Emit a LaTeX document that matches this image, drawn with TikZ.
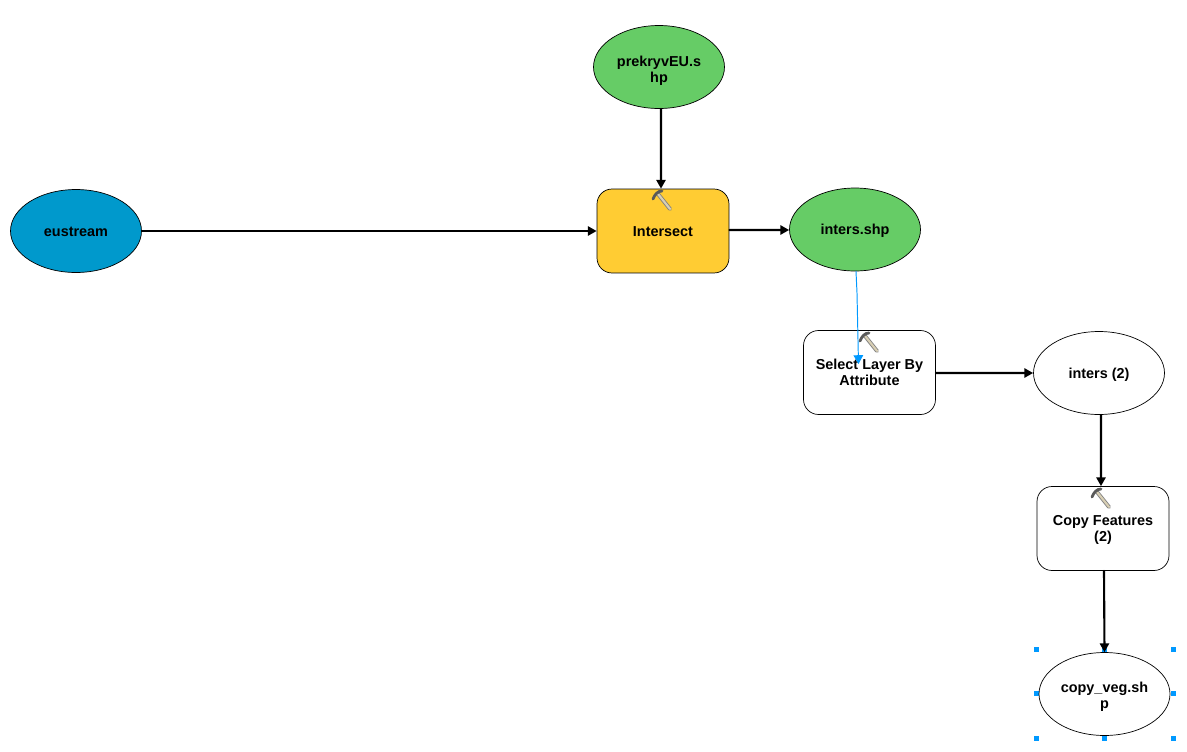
\documentclass[tikz,border=0pt]{standalone}
\usepackage{fontspec}
\setmainfont{Liberation Sans}
\usetikzlibrary{shapes.geometric}
\usetikzlibrary{arrows.meta}

\definecolor{datablue}{HTML}{0099CC}
\definecolor{datagreen}{HTML}{66CC66}
\definecolor{toolyellow}{HTML}{FFCC33}
\definecolor{selectblue}{HTML}{0099FF}
\definecolor{hammerwood}{HTML}{D8CFB4}

\newcommand{\textdrop}[1]{\rule{0pt}{#1}}

\tikzset{
	modeltext/.style = {font=\fontsize{8.2pt}{9.1pt}\selectfont\bfseries, align=center, inner sep=0pt},
	dataset/.style = {modeltext, draw, line width=0.4pt, ellipse, minimum width=2.62cm, minimum height=1.66cm},
	tool/.style = {modeltext, draw, line width=0.4pt, rectangle, rounded corners=0.3cm, minimum width=2.64cm, minimum height=1.68cm},
	flow/.style = {draw, line width=1.2pt, -{Triangle[length=5pt, width=5.2pt]}},
	selflow/.style = {draw=selectblue, line width=0.55pt, -{Triangle[length=5pt, width=5.5pt]}},
	handle/.style = {fill=selectblue, inner sep=0pt, minimum size=0.1cm},
	pics/hammer/.style = {code={
		\draw [line width=2.2pt, gray] (-2,1) -- (10,16);
		\draw [line width=1.2pt, hammerwood] (-2,1) -- (10,16);
		\draw [line width=1.6pt, black!65] (-7,6) .. controls (-5,1) and (-2,-2) .. (2,-2);
	}}
}

\begin{document}
\begin{tikzpicture}[x=0.02cm, y=-0.02cm, line cap=round, line join=round]
	\useasboundingbox (0,0) rectangle (1187,751);
	% selection
	\foreach \hx/\hy/\hname in {1036.5/649/a, 1104/649/b, 1173/649/c, 1036.5/693/d, 1173/693/e, 1036.5/738/f, 1104/738/g, 1173/738/h}
		\node [handle] (handle\hname) at (\hx,\hy) {};
	% data
	\node [dataset, fill=datablue] (eustream) at (76,231) {\textdrop{6.9pt}eustream};
	\node [dataset, fill=datagreen] (prekryv) at (659,67) {\textdrop{9.7pt}prekryvEU.s\\hp};
	\node [dataset, fill=datagreen] (intersshp) at (855,229.5) {\textdrop{6.9pt}inters.shp};
	\node [dataset] (inters) at (1099,373) {\textdrop{8pt}inters (2)};
	\node [dataset] (copyveg) at (1104.5,694) {\textdrop{9.1pt}copy\_veg.sh\\p};
	% tools
	\node [tool, fill=toolyellow] (intersect) at (663,231) {\textdrop{6.9pt}Intersect};
	\node [tool] (select) at (869.5,372.5) {Select Layer By\\Attribute};
	\node [tool] (copy) at (1103,528.5) {\textdrop{6.9pt}Copy Features\\(2)};
	% connectors
	\draw [flow] (eustream.east) -- (intersect.west);
	\draw [flow] ([xshift=0.04cm]prekryv.south) -- ([xshift=-0.04cm]intersect.north);
	\draw [flow] ([yshift=0.02cm]intersect.east) -- ([yshift=-0.01cm]intersshp.west);
	\draw [flow] ([yshift=-0.01cm]select.east) -- (inters.west);
	\draw [flow] ([xshift=0.04cm]inters.south) -- ([xshift=-0.04cm]copy.north);
	\draw [flow] ([xshift=0.02cm]copy.south) -- (copyveg.north);
	% blue one
	\coordinate (selbend) at (857,293);
	\coordinate (seltip) at (858.5,364);
	\draw [selflow] (intersshp.south) ++(1,0) -- (selbend) -- (seltip);
	% hammers
	\pic at (660,193) {hammer};
	\pic at (867,335) {hammer};
	\pic at (1099,491) {hammer};
\end{tikzpicture}
\end{document}
